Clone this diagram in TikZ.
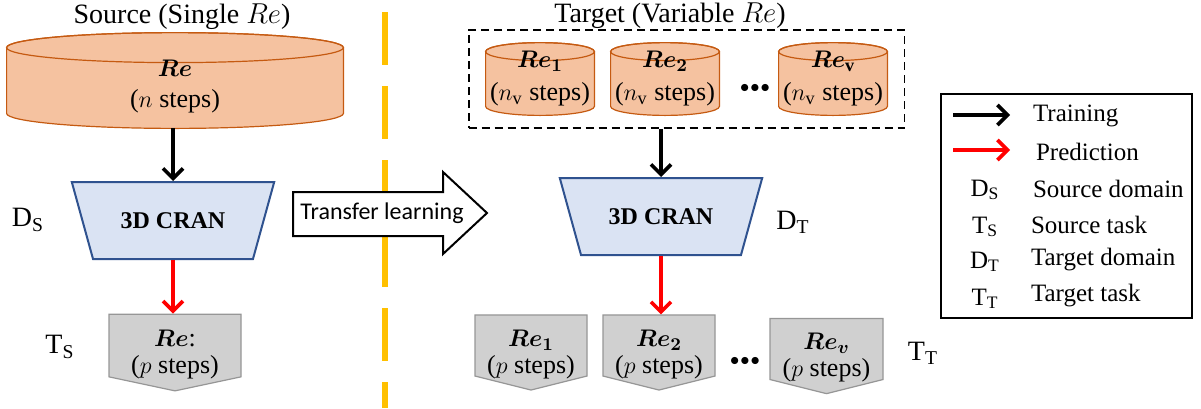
\documentclass[tikz,border=0pt]{standalone}
\usepackage{fontspec}
\usepackage{bm}
\usetikzlibrary{shapes.geometric,shapes.symbols,arrows.meta,fit,backgrounds,calc}
\setmainfont{Liberation Serif}
\newfontfamily\calibri{Carlito}

\definecolor{drumfill}{RGB}{245,194,160}
\definecolor{drumline}{RGB}{197,90,17}
\definecolor{cranfill}{RGB}{218,227,243}
\definecolor{cranline}{RGB}{47,82,143}
\definecolor{tagfill}{RGB}{208,208,208}
\definecolor{tagline}{RGB}{150,150,150}
\definecolor{divider}{RGB}{255,192,0}

\tikzset{
	headline/.style={font=\fontsize{14}{16}\selectfont},
	drum/.style={minimum width=#1, inner sep=0pt, align=center, font=\fontsize{13}{16.5}\selectfont},
	drumbody/.style={draw=drumline, fill=drumfill, line width=0.6pt},
	cran/.style={trapezium, shape border rotate=180, trapezium angle=62, trapezium stretches=true,
		minimum width=102pt, minimum height=38.5pt, draw=cranline, fill=cranfill, line width=1pt,
		font=\bfseries\fontsize{12}{14}\selectfont},
	tag/.style={signal, signal to=south, signal from=nowhere, minimum width=#1, minimum height=36pt,
		inner sep=0pt, draw=tagline, fill=tagfill, line width=0.6pt,
		font=\fontsize{13}{13.5}\selectfont},
	side/.style={font=\fontsize{14}{16}\selectfont},
	train/.style={-{Straight Barb[length=5pt,width=10pt]}, line width=1.8pt},
	predict/.style={train, red},
	key/.style={anchor=west, font=\fontsize{12.5}{14}\selectfont},
	keysym/.style={font=\fontsize{12.5}{14}\selectfont}
}

% two lines set a little below the middle of a tag
\newcommand{\tagtext}[2]{\raisebox{-7.5pt}[0pt][0pt]{\begin{tabular}{@{}c@{}}#1\\#2\end{tabular}}}

% cylinder outline around a node: #1 node, #2 half height of the rim
\newcommand{\drawdrum}[2]{%
	\path[drumbody] let \p1=(#1.north west), \p2=(#1.south east), \n1={(\x2-\x1)/2} in
		(\x1,\y1-#2) -- (\x1,\y2+#2)
		arc[start angle=180, end angle=360, x radius=\n1, y radius=#2]
		-- (\x2,\y1-#2)
		arc[start angle=0, end angle=180, x radius=\n1, y radius=#2] -- cycle;
	\draw[drumline, line width=0.6pt] let \p1=(#1.north west), \p2=(#1.south east), \n1={(\x2-\x1)/2} in
		(\x1+\n1,\y1-#2) ellipse [x radius=\n1, y radius=#2];
}

\begin{document}
\begin{tikzpicture}[x=0.5pt, y=-0.5pt]
	\useasboundingbox (0,0) rectangle (1201,408);
	
	% Dividing line
	\coordinate (divtop) at (385,0);
	\coordinate (divbot) at (385,408);
	\draw[divider, line width=3pt, dash pattern=on 26.5pt off 10.5pt, dash phase=31pt] (divtop) -- (divbot);
	
	% Headings
	\node[headline] (srchead) at (182,17) {Source (Single $Re$)};
	\node[headline] (tgthead) at (670,16) {Target (Variable $Re$)};
	
	% Source side
	\node[drum=168pt, minimum height=47.5pt] (src) at (175,80.5) {\rule{0pt}{14pt}$\bm{Re}$\\[-1pt]($n$ steps)};
	\node[cran] (cranS) at (173,220.5) {3D CRAN};
	\node[tag=66pt, signal pointer angle=156] (tS) at (175,345.5) {\tagtext{$\bm{Re}$:}{($p$ steps)}};
	\node[side] (DS) at (28,220) {$\mathrm{D_S}$};
	\node[side] (TS) at (60,347) {$\mathrm{T_S}$};
	
	\draw[train] (src.south -| cranS.north) -- (cranS.north);
	\draw[predict] (cranS.south) -- (cranS.south |- tS.north);
	
	% Transfer
	\draw[line width=1pt, fill=white] (293,192) -- (443,192) -- (443,172) -- (487,213)
		-- (443,254) -- (443,236) -- (293,236) -- cycle;
	\node[font=\calibri\fontsize{12}{13}\selectfont] (transfer) at (382,213) {Transfer learning};
	
	% Target side
	\node[drum=54pt, minimum height=36pt] (re1) at (540,79) {$\bm{Re_1}$\\($n_{\mathrm{v}}$ steps)};
	\node[drum=54pt, minimum height=36pt] (re2) at (665,79) {$\bm{Re_2}$\\($n_{\mathrm{v}}$ steps)};
	\node[drum=54pt, minimum height=36pt] (rev) at (833,79) {$\bm{Re}_{\mathbf{v}}$\\($n_{\mathrm{v}}$ steps)};
	\node (dots1) at (755,88) {\fontsize{9}{9}\selectfont$\bullet\!\bullet\!\bullet$};
	\node[fit=(re1)(rev), inner xsep=8.5pt, inner ysep=6.3pt, draw, line width=0.9pt,
		dash pattern=on 4pt off 2.5pt] (tgtbox) {};
	
	\node[cran] (cranT) at (661,216.5) {3D CRAN};
	\node[side] (DT) at (793,222) {$\mathrm{D_T}$};
	
	\node[tag=56pt, signal pointer angle=152] (tT1) at (531,345.5) {\tagtext{$\bm{Re_1}$}{($p$ steps)}};
	\node[tag=56pt, signal pointer angle=152] (tT2) at (659,345.5) {\tagtext{$\bm{Re_2}$}{($p$ steps)}};
	\node[tag=56.5pt, signal pointer angle=152] (tTv) at (826.5,349) {\tagtext{$\bm{Re_v}$}{($p$ steps)}};
	\node (dots2) at (745,361) {\fontsize{9}{9}\selectfont$\bullet\!\bullet\!\bullet$};
	\node[side] (TT) at (923,353) {$\mathrm{T_T}$};
	
	\draw[train] (tgtbox.south -| cranT.north) -- (cranT.north);
	\draw[predict] (cranT.south) -- (cranT.south |- tT2.north);
	
	% Legend
	\node[draw, line width=0.6pt, minimum width=125.5pt, minimum height=112pt] (legend) at (1066.5,206) {};
	\coordinate (trA) at (953,115);
	\coordinate (trB) at (1010,115);
	\coordinate (prA) at (953,150);
	\coordinate (prB) at (1010,150);
	\draw[train] (trA) -- (trB);
	\draw[predict] (prA) -- (prB);
	\node[key] (ktrain) at (1026,116) {Training};
	\node[key] (kpred) at (1029,152) {Prediction};
	\node[keysym] (kDS) at (985,190) {$\mathrm{D_S}$};
	\node[key] (kDSt) at (1026,189) {Source domain};
	\node[keysym] (kTS) at (985,227) {$\mathrm{T_S}$};
	\node[key] (kTSt) at (1024,225) {Source task};
	\node[keysym] (kDT) at (985,262) {$\mathrm{D_T}$};
	\node[key] (kDTt) at (1024,260) {Target domain};
	\node[keysym] (kTT) at (985,299) {$\mathrm{T_T}$};
	\node[key] (kTTt) at (1024,296) {Target task};
	
	% Cylinders behind their labels
	\begin{pgfonlayer}{background}
		\drawdrum{src}{7.5pt}
		\drawdrum{re1}{4.5pt}
		\drawdrum{re2}{4.5pt}
		\drawdrum{rev}{4.5pt}
	\end{pgfonlayer}
\end{tikzpicture}
\end{document}
